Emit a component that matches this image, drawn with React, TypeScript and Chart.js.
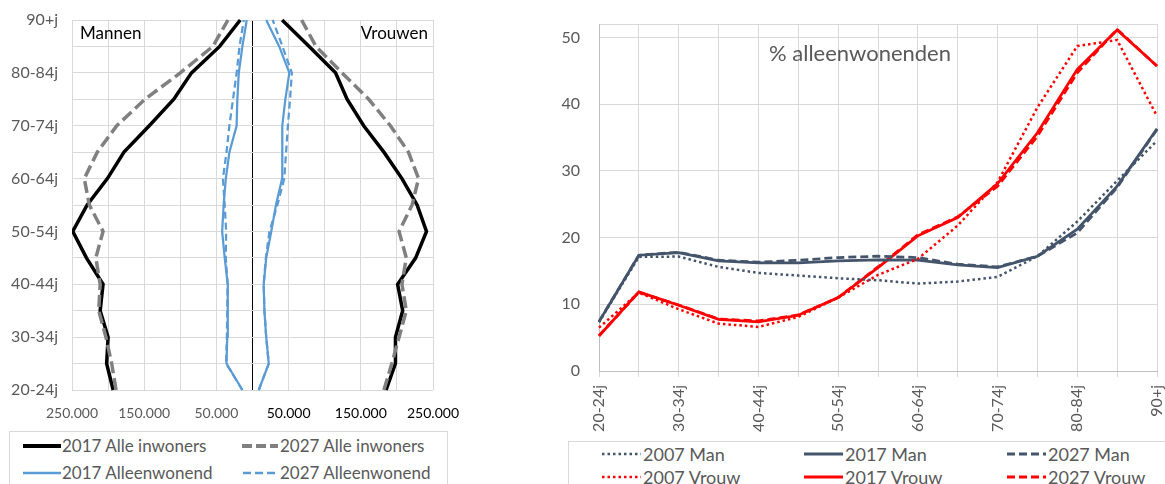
import React, { useEffect, useRef } from 'react';
import { Chart, registerables } from 'chart.js';

Chart.register(...registerables);

// ---------- data ----------
const AGE_LABELS = [
  '20-24j', '25-29j', '30-34j', '35-39j', '40-44j', '45-49j', '50-54j', '55-59j',
  '60-64j', '65-69j', '70-74j', '75-79j', '80-84j', '85-89j', '90+j',
];

// Left panel: numbers of inhabitants per age group (men drawn to the left)
const MEN_2017_ALL = [193000, 202000, 200000, 211000, 207000, 230000, 249000, 229000, 201000, 178000, 143000, 109000, 84500, 45500, 17000];
const MEN_2027_ALL = [189000, 195000, 203000, 213000, 211000, 217000, 207000, 226000, 233000, 215000, 188000, 149000, 100000, 55000, 34000];
const MEN_2017_ALONE = [14000, 36000, 35000, 34500, 34000, 38500, 42000, 40000, 37000, 32000, 22000, 21000, 19000, 14000, 8000];
const MEN_2027_ALONE = [14000, 36500, 35500, 35000, 34500, 37000, 36500, 38500, 41000, 36000, 32000, 27000, 22000, 18000, 12000];
const WOMEN_2017_ALL = [185000, 198000, 198000, 208000, 201000, 226000, 241000, 228000, 207000, 182000, 154000, 131000, 115000, 78500, 41000];
const WOMEN_2027_ALL = [182000, 193000, 203000, 213000, 207000, 213000, 203000, 221000, 230000, 216000, 191000, 161000, 124000, 88000, 68000];
const WOMEN_2017_ALONE = [8700, 22500, 19000, 16500, 15500, 19000, 26000, 32500, 41000, 41000, 41500, 45500, 51000, 37000, 19000];
const WOMEN_2027_ALONE = [8700, 22500, 19000, 16500, 15500, 18500, 23500, 34500, 44000, 46500, 49000, 52000, 54500, 41500, 28000];

// Right panel: % living alone
const MAN_2007 = [7.3, 17.1, 17.15, 15.6, 14.7, 14.3, 13.9, 13.6, 13.1, 13.4, 14.1, 17.2, 22.4, 28.5, 34.5];
const MAN_2017 = [7.4, 17.35, 17.75, 16.5, 16.2, 16.2, 16.5, 16.65, 16.6, 15.9, 15.5, 17.2, 21.25, 27.7, 36.3];
const MAN_2027 = [7.4, 17.35, 17.8, 16.6, 16.3, 16.6, 17.0, 17.2, 17.0, 16.0, 15.6, 17.2, 20.7, 27.5, 36.2];
const VROUW_2007 = [6.5, 11.75, 9.25, 7.1, 6.6, 8.1, 11.0, 14.4, 16.8, 21.8, 28.3, 39.5, 48.7, 49.6, 38.2];
const VROUW_2017 = [5.25, 11.85, 9.85, 7.75, 7.35, 8.35, 11.0, 15.5, 20.25, 23.0, 28.1, 35.7, 45.2, 51.1, 45.7];
const VROUW_2027 = [5.3, 11.8, 9.9, 7.8, 7.5, 8.4, 11.0, 15.6, 20.4, 23.1, 27.7, 35.2, 44.7, 51.2, 45.7];

const PYRAMID_TICKS = { min: -250000, max: 250000, step: 50000 };
const PCT_TICK_VALUES = [0, 10, 20, 30, 40, 50];
const PCT_MAX = 52;

// ---------- styles ----------
const FONT = 'Lato, "Noto Sans", sans-serif';
const GRID = '#d9d9d9';
const TEXT = '#595959';
const BLACK = '#000000';
const GRAY = '#808080';
const BLUE = '#5b9bd5';
const SLATE = '#44546a';
const RED = '#ff0000';

const DOT = [2.5, 3];
const DASH = [8, 4];

function fmtThousands(v: number) {
  return String(Math.abs(v)).replace(/\B(?=(\d{3})+(?!\d))/g, '.');
}

const pyramidText = {
  id: 'pyramidText',
  afterDraw(chart: any) {
    const { ctx, chartArea } = chart;
    ctx.save();
    ctx.font = `17px ${FONT}`;
    ctx.fillStyle = '#000';
    ctx.textBaseline = 'alphabetic';
    ctx.textAlign = 'left';
    ctx.fillText('Mannen', chartArea.left + 8, chartArea.top + 19);
    ctx.textAlign = 'right';
    ctx.fillText('Vrouwen', chartArea.right - 5, chartArea.top + 19);
    ctx.restore();
  },
};

const pctTitle = {
  id: 'pctTitle',
  afterDraw(chart: any) {
    const { ctx, chartArea } = chart;
    ctx.save();
    ctx.font = `22px ${FONT}`;
    ctx.fillStyle = TEXT;
    ctx.textBaseline = 'alphabetic';
    ctx.textAlign = 'center';
    ctx.fillText('% alleenwonenden', chartArea.left + 261, chartArea.top + 37);
    ctx.restore();
  },
};

function lineDs(label: string, data: number[], color: string, width: number, dash: number[]) {
  return {
    label,
    data,
    borderColor: color,
    backgroundColor: color,
    borderWidth: width,
    borderDash: dash,
    pointRadius: 0,
    pointHoverRadius: 0,
    tension: 0,
    fill: false,
  };
}

function PyramidChart() {
  const ref = useRef<HTMLCanvasElement>(null);
  useEffect(() => {
    const neg = (a: number[]) => a.map((v) => -v);
    const chart = new Chart(ref.current as HTMLCanvasElement, {
      type: 'line',
      data: {
        labels: AGE_LABELS,
        datasets: [
          lineDs('2027 Alle inwoners', neg(MEN_2027_ALL), GRAY, 3.5, [12, 5]),
          lineDs('2027 Alle inwoners', WOMEN_2027_ALL, GRAY, 3.5, [12, 5]),
          lineDs('2017 Alle inwoners', neg(MEN_2017_ALL), BLACK, 3.5, []),
          lineDs('2017 Alle inwoners', WOMEN_2017_ALL, BLACK, 3.5, []),
          lineDs('2027 Alleenwonend', neg(MEN_2027_ALONE), BLUE, 2.25, [7, 4]),
          lineDs('2027 Alleenwonend', WOMEN_2027_ALONE, BLUE, 2.25, [7, 4]),
          lineDs('2017 Alleenwonend', neg(MEN_2017_ALONE), BLUE, 2.25, []),
          lineDs('2017 Alleenwonend', WOMEN_2017_ALONE, BLUE, 2.25, []),
        ] as any,
      },
      options: {
        indexAxis: 'y',
        responsive: false,
        animation: false,
        layout: { padding: { left: 0, top: 20, right: 27, bottom: 0 } },
        plugins: { legend: { display: false }, tooltip: { enabled: false } },
        scales: {
          x: {
            type: 'linear',
            min: PYRAMID_TICKS.min,
            max: PYRAMID_TICKS.max,
            afterFit: (s: any) => { s.height = 38; s.paddingLeft = 0; s.paddingRight = 0; },
            border: { display: false },
            grid: {
              drawTicks: false,
              color: (c: any) => (c.tick && c.tick.value === 0 ? '#000000' : GRID),
              lineWidth: 1,
            },
            ticks: {
              stepSize: PYRAMID_TICKS.step,
              autoSkip: false,
              maxRotation: 0,
              padding: 15,
              font: { family: FONT, size: 14 },
              color: (c: any) => (c.tick && c.tick.value < 0 ? TEXT : '#000000'),
              callback: (v: any) => (Math.round(Math.abs(v) / PYRAMID_TICKS.step) % 2 === 1 ? fmtThousands(v) : ''),
            },
          },
          y: {
            type: 'category',
            reverse: true,
            afterFit: (s: any) => { s.width = 72; s.paddingTop = 0; s.paddingBottom = 0; },
            border: { display: false },
            grid: { drawTicks: false, color: GRID },
            ticks: {
              autoSkip: false,
              padding: 14,
              font: { family: FONT, size: 16 },
              color: TEXT,
              callback: function (this: any, v: any, i: number) {
                return i % 2 === 0 ? this.getLabelForValue(v) : '';
              },
            },
          },
        },
      } as any,
      plugins: [pyramidText],
    });
    return () => chart.destroy();
  }, []);
  return <canvas ref={ref} width={460} height={428} style={{ position: 'absolute', left: 0, top: 0, width: 460, height: 428 }} />;
}

function PctChart() {
  const ref = useRef<HTMLCanvasElement>(null);
  useEffect(() => {
    const chart = new Chart(ref.current as HTMLCanvasElement, {
      type: 'line',
      data: {
        labels: AGE_LABELS,
        datasets: [
          lineDs('2007 Man', MAN_2007, SLATE, 2.5, DOT),
          lineDs('2007 Vrouw', VROUW_2007, RED, 2.5, DOT),
          lineDs('2027 Man', MAN_2027, SLATE, 2.75, DASH),
          lineDs('2017 Man', MAN_2017, SLATE, 2.75, []),
          lineDs('2027 Vrouw', VROUW_2027, RED, 2.75, DASH),
          lineDs('2017 Vrouw', VROUW_2017, RED, 2.75, []),
        ] as any,
      },
      options: {
        responsive: false,
        animation: false,
        layout: { padding: { left: 0, top: 24, right: 8, bottom: 0 } },
        plugins: { legend: { display: false }, tooltip: { enabled: false } },
        scales: {
          x: {
            type: 'category',
            afterFit: (s: any) => { s.height = 70; s.paddingLeft = 0; s.paddingRight = 0; },
            border: { display: true, color: '#bfbfbf' },
            grid: { drawTicks: true, tickLength: 6, color: GRID },
            ticks: {
              autoSkip: false,
              minRotation: 90,
              maxRotation: 90,
              padding: 8,
              font: { family: FONT, size: 16 },
              color: TEXT,
              callback: function (this: any, v: any, i: number) {
                return i % 2 === 0 ? this.getLabelForValue(v) : '';
              },
            },
          },
          y: {
            type: 'linear',
            min: 0,
            max: PCT_MAX,
            afterBuildTicks: (s: any) => {
              s.ticks = [...PCT_TICK_VALUES, PCT_MAX].map((v) => ({ value: v }));
            },
            afterFit: (s: any) => { s.width = 59; s.paddingTop = 0; s.paddingBottom = 0; },
            border: { display: true, color: '#bfbfbf' },
            grid: { drawTicks: false, color: GRID },
            ticks: {
              padding: 19,
              font: { family: FONT, size: 16 },
              color: TEXT,
              callback: (v: any) => (PCT_TICK_VALUES.includes(v) ? String(v) : ''),
            },
          },
        },
      } as any,
      plugins: [pctTitle],
    });
    return () => chart.destroy();
  }, []);
  return <canvas ref={ref} width={625} height={441} style={{ position: 'absolute', left: 540, top: 0, width: 625, height: 441 }} />;
}

type Item = { label: string; color: string; width: number; dash: number[]; x: number; w: number; tx: number; y: number };

function Legend({ box, items, size }: { box: { left: number; top: number; width: number; height: number }; items: Item[]; size: number }) {
  return (
    <>
      <div style={{ position: 'absolute', left: box.left, top: box.top, width: box.width, height: box.height, border: `1px solid ${GRID}`, boxSizing: 'border-box' }} />
      {items.map((it) => (
        <React.Fragment key={it.label + it.x}>
          <svg style={{ position: 'absolute', left: it.x, top: it.y - 5 }} width={it.w} height={10}>
            <line x1={0} y1={5} x2={it.w} y2={5} stroke={it.color} strokeWidth={it.width} strokeDasharray={it.dash.length ? it.dash.join(' ') : undefined} />
          </svg>
          <span style={{ position: 'absolute', left: it.tx, top: it.y - 12, height: 24, lineHeight: '24px', fontFamily: FONT, fontSize: size, color: TEXT, whiteSpace: 'nowrap' }}>{it.label}</span>
        </React.Fragment>
      ))}
    </>
  );
}

const LEFT_LEGEND: Item[] = [
  { label: '2017 Alle inwoners', color: BLACK, width: 4, dash: [], x: 23, w: 38, tx: 62, y: 446 },
  { label: '2027 Alle inwoners', color: GRAY, width: 4, dash: [10, 4], x: 242, w: 36, tx: 280, y: 446 },
  { label: '2017 Alleenwonend', color: BLUE, width: 2.5, dash: [], x: 23, w: 38, tx: 62, y: 473 },
  { label: '2027 Alleenwonend', color: BLUE, width: 2.5, dash: [8, 4], x: 243, w: 34, tx: 280, y: 473 },
];

const RIGHT_LEGEND: Item[] = [
  { label: '2007 Man', color: SLATE, width: 2.5, dash: DOT, x: 602, w: 39, tx: 643, y: 454 },
  { label: '2017 Man', color: SLATE, width: 3, dash: [], x: 804, w: 39, tx: 845, y: 454 },
  { label: '2027 Man', color: SLATE, width: 3, dash: DASH, x: 1007, w: 39, tx: 1048, y: 454 },
  { label: '2007 Vrouw', color: RED, width: 2.5, dash: DOT, x: 602, w: 39, tx: 643, y: 477 },
  { label: '2017 Vrouw', color: RED, width: 3, dash: [], x: 804, w: 39, tx: 845, y: 477 },
  { label: '2027 Vrouw', color: RED, width: 3, dash: DASH, x: 1007, w: 39, tx: 1048, y: 477 },
];

export default function App() {
  return (
    <div style={{ position: 'fixed', left: 0, top: 0, width: 1165, height: 484, overflow: 'hidden', background: '#ffffff' }}>
      <PyramidChart />
      <PctChart />
      <Legend box={{ left: 9, top: 431, width: 439, height: 80 }} items={LEFT_LEGEND} size={17} />
      <Legend box={{ left: 568, top: 441, width: 700, height: 80 }} items={RIGHT_LEGEND} size={18} />
    </div>
  );
}
